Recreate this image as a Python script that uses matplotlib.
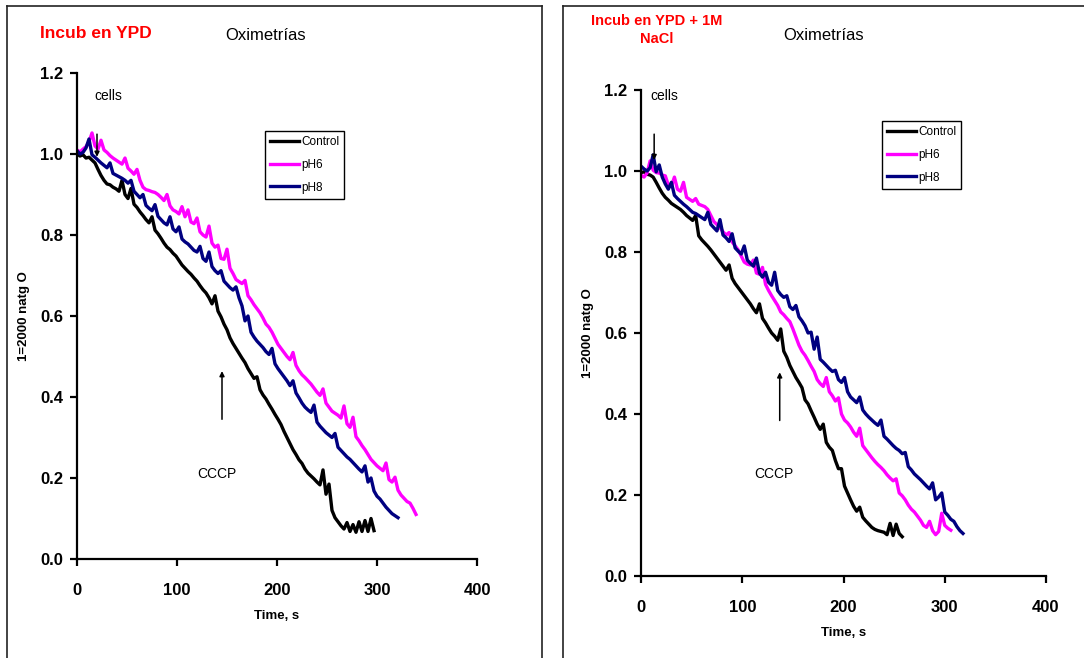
import matplotlib
matplotlib.use("Agg")
import matplotlib.pyplot as plt
from matplotlib.lines import Line2D
import numpy as np

plt.rcParams['font.family'] = ['Liberation Sans', 'DejaVu Sans']

# seconds between two readings of the oximeter trace
STEP = 3

# Incub en YPD
ypd_control = [1.000, 0.995, 0.998, 0.990, 0.992, 0.985, 0.978, 0.962, 0.947, 0.935,
               0.926, 0.924, 0.918, 0.914, 0.908, 0.935, 0.900, 0.890, 0.915, 0.876,
               0.868, 0.857, 0.848, 0.838, 0.830, 0.845, 0.812, 0.803, 0.792, 0.780,
               0.770, 0.764, 0.755, 0.748, 0.737, 0.726, 0.718, 0.710, 0.703, 0.694,
               0.686, 0.675, 0.665, 0.657, 0.645, 0.630, 0.650, 0.612, 0.598, 0.580,
               0.566, 0.546, 0.532, 0.520, 0.508, 0.496, 0.485, 0.470, 0.458, 0.446,
               0.450, 0.418, 0.405, 0.395, 0.382, 0.370, 0.357, 0.345, 0.332, 0.315,
               0.300, 0.285, 0.270, 0.258, 0.245, 0.236, 0.222, 0.212, 0.205, 0.198,
               0.190, 0.183, 0.220, 0.160, 0.185, 0.120, 0.102, 0.092, 0.082, 0.074,
               0.090, 0.068, 0.085, 0.066, 0.092, 0.068, 0.095, 0.068, 0.100, 0.070]
ypd_ph6 = [1.010, 1.005, 1.012, 1.018, 1.030, 1.052, 1.020, 1.012, 1.034, 1.010,
           1.004, 0.996, 0.990, 0.985, 0.980, 0.975, 0.990, 0.965, 0.958, 0.950,
           0.962, 0.935, 0.918, 0.912, 0.910, 0.907, 0.905, 0.900, 0.893, 0.885,
           0.900, 0.872, 0.862, 0.858, 0.852, 0.870, 0.845, 0.862, 0.832, 0.828,
           0.842, 0.808, 0.800, 0.795, 0.822, 0.780, 0.770, 0.775, 0.742, 0.740,
           0.765, 0.718, 0.705, 0.690, 0.685, 0.680, 0.688, 0.650, 0.640, 0.628,
           0.618, 0.608, 0.595, 0.580, 0.572, 0.560, 0.545, 0.530, 0.520, 0.510,
           0.500, 0.492, 0.510, 0.478, 0.465, 0.455, 0.448, 0.440, 0.432, 0.422,
           0.412, 0.404, 0.420, 0.385, 0.375, 0.365, 0.360, 0.355, 0.348, 0.378,
           0.334, 0.325, 0.350, 0.302, 0.292, 0.280, 0.270, 0.258, 0.246, 0.238,
           0.230, 0.224, 0.218, 0.237, 0.196, 0.190, 0.202, 0.170, 0.158, 0.150,
           0.142, 0.138, 0.125, 0.110]
ypd_ph8 = [1.008, 1.000, 1.004, 1.015, 1.037, 0.998, 0.992, 0.985, 0.978, 0.972,
           0.966, 0.978, 0.952, 0.948, 0.944, 0.940, 0.935, 0.928, 0.935, 0.908,
           0.900, 0.892, 0.900, 0.873, 0.866, 0.860, 0.875, 0.846, 0.838, 0.830,
           0.825, 0.845, 0.815, 0.808, 0.820, 0.790, 0.783, 0.778, 0.770, 0.762,
           0.758, 0.772, 0.742, 0.735, 0.758, 0.722, 0.712, 0.705, 0.712, 0.686,
           0.678, 0.670, 0.664, 0.672, 0.645, 0.625, 0.588, 0.600, 0.560, 0.548,
           0.538, 0.530, 0.522, 0.512, 0.505, 0.520, 0.482, 0.470, 0.460, 0.450,
           0.440, 0.428, 0.440, 0.410, 0.398, 0.385, 0.375, 0.368, 0.362, 0.380,
           0.338, 0.328, 0.320, 0.312, 0.306, 0.300, 0.310, 0.276, 0.268, 0.260,
           0.252, 0.246, 0.238, 0.230, 0.222, 0.215, 0.230, 0.190, 0.200, 0.168,
           0.155, 0.148, 0.138, 0.128, 0.120, 0.112, 0.107, 0.102]

# Incub en YPD + 1M NaCl
nacl_control = [0.996, 0.998, 0.992, 0.990, 0.985, 0.972, 0.958, 0.945, 0.935, 0.928,
                0.920, 0.915, 0.910, 0.905, 0.898, 0.890, 0.884, 0.878, 0.890, 0.840,
                0.830, 0.822, 0.814, 0.805, 0.795, 0.785, 0.775, 0.765, 0.755, 0.768,
                0.735, 0.722, 0.712, 0.702, 0.692, 0.682, 0.672, 0.660, 0.650, 0.672,
                0.636, 0.625, 0.612, 0.600, 0.592, 0.582, 0.610, 0.555, 0.540, 0.520,
                0.505, 0.490, 0.478, 0.465, 0.435, 0.425, 0.408, 0.392, 0.375, 0.362,
                0.375, 0.330, 0.318, 0.310, 0.285, 0.265, 0.265, 0.222, 0.205, 0.188,
                0.172, 0.160, 0.170, 0.145, 0.136, 0.128, 0.120, 0.115, 0.112, 0.110,
                0.108, 0.102, 0.130, 0.100, 0.128, 0.105, 0.097]
nacl_ph6 = [0.990, 0.985, 0.995, 1.025, 1.002, 0.996, 0.995, 0.990, 0.988, 0.965,
            0.962, 0.985, 0.955, 0.950, 0.972, 0.935, 0.930, 0.925, 0.932, 0.918,
            0.915, 0.912, 0.905, 0.890, 0.875, 0.868, 0.860, 0.850, 0.842, 0.848,
            0.825, 0.815, 0.805, 0.790, 0.775, 0.770, 0.768, 0.780, 0.748, 0.745,
            0.762, 0.720, 0.705, 0.692, 0.680, 0.668, 0.652, 0.645, 0.636, 0.628,
            0.610, 0.590, 0.570, 0.555, 0.545, 0.532, 0.518, 0.505, 0.485, 0.475,
            0.468, 0.490, 0.455, 0.445, 0.432, 0.440, 0.400, 0.385, 0.378, 0.368,
            0.355, 0.345, 0.365, 0.322, 0.312, 0.302, 0.292, 0.283, 0.275, 0.268,
            0.260, 0.250, 0.242, 0.235, 0.240, 0.205, 0.198, 0.188, 0.175, 0.165,
            0.158, 0.148, 0.138, 0.125, 0.120, 0.135, 0.112, 0.102, 0.110, 0.155,
            0.125, 0.118, 0.113]
nacl_ph8 = [1.012, 1.005, 1.000, 1.008, 1.040, 0.998, 1.015, 0.985, 0.968, 0.955,
            0.972, 0.940, 0.932, 0.925, 0.918, 0.912, 0.905, 0.898, 0.895, 0.890,
            0.885, 0.880, 0.898, 0.868, 0.860, 0.852, 0.880, 0.842, 0.835, 0.826,
            0.845, 0.810, 0.802, 0.795, 0.815, 0.780, 0.772, 0.765, 0.785, 0.748,
            0.738, 0.750, 0.725, 0.718, 0.750, 0.705, 0.695, 0.688, 0.692, 0.665,
            0.658, 0.668, 0.640, 0.630, 0.618, 0.600, 0.602, 0.560, 0.590, 0.535,
            0.528, 0.520, 0.512, 0.505, 0.508, 0.485, 0.478, 0.490, 0.455, 0.442,
            0.435, 0.428, 0.442, 0.410, 0.400, 0.392, 0.385, 0.378, 0.372, 0.385,
            0.345, 0.338, 0.330, 0.322, 0.315, 0.310, 0.302, 0.305, 0.270, 0.262,
            0.252, 0.245, 0.238, 0.230, 0.222, 0.215, 0.230, 0.188, 0.195, 0.205,
            0.158, 0.150, 0.140, 0.135, 0.122, 0.112, 0.105]

series_labels = ["Control", "pH6", "pH8"]
series_colors = ["black", "#FF00FF", "#000080"]
x_ticks = [0, 100, 200, 300, 400]
y_ticks = [0.0, 0.2, 0.4, 0.6, 0.8, 1.0, 1.2]


def draw_panel(fig, rect, curves, legend_xy, cells_xy, cells_arrow, cccp_xy, cccp_arrow):
    ax = fig.add_axes(rect)
    for vals, lab, col in zip(curves, series_labels, series_colors):
        t = np.arange(len(vals)) * STEP
        ax.plot(t, vals, color=col, lw=2.4, label=lab)
    ax.set_xlim(0, 400)
    ax.set_ylim(0, 1.2)
    ax.set_xticks(x_ticks)
    ax.set_yticks(y_ticks)
    ax.set_yticklabels(["%.1f" % v for v in y_ticks])
    for s in ["top", "right"]:
        ax.spines[s].set_visible(False)
    for s in ["left", "bottom"]:
        ax.spines[s].set_linewidth(1.6)
    ax.tick_params(direction="out", length=5, width=1.6, labelsize=12)
    ax.tick_params(axis="x", pad=12)
    ax.tick_params(axis="y", pad=5)
    for lab in ax.get_xticklabels() + ax.get_yticklabels():
        lab.set_fontweight("bold")
    ax.set_xlabel("Time, s", fontsize=9.5, fontweight="bold")
    ax.xaxis.set_label_coords(0.5, -0.105)
    ax.set_ylabel("1=2000 natg O", fontsize=9.5, fontweight="bold")
    ax.yaxis.set_label_coords(-0.117, 0.5)

    leg = ax.legend(loc="upper left", bbox_to_anchor=legend_xy, bbox_transform=fig.transFigure,
                    fontsize=8.5, handlelength=2.4, handletextpad=0.2, borderpad=0.45,
                    labelspacing=0.9, borderaxespad=0, fancybox=False, framealpha=1,
                    edgecolor="black")
    leg.get_frame().set_linewidth(1.0)

    arrow = dict(arrowstyle="-|>", color="black", lw=1.1, mutation_scale=7, shrinkA=0, shrinkB=0)
    ax.text(cells_xy[0], cells_xy[1], "cells", fontsize=10, ha="center", va="center")
    ax.annotate("", xy=(cells_arrow[0], cells_arrow[2]), xytext=(cells_arrow[0], cells_arrow[1]),
                arrowprops=arrow)
    ax.text(cccp_xy[0], cccp_xy[1], "CCCP", fontsize=10, ha="center", va="center")
    ax.annotate("", xy=(cccp_arrow[0], cccp_arrow[2]), xytext=(cccp_arrow[0], cccp_arrow[1]),
                arrowprops=arrow)
    return ax


fig = plt.figure(figsize=(10.84, 6.58), dpi=100)

draw_panel(fig, [77 / 1084, 99 / 658, 400 / 1084, 486 / 658],
           [ypd_control, ypd_ph6, ypd_ph8], (265 / 1084, 1 - 131 / 658),
           (31, 1.143), (20, 1.049, 0.993), (140, 0.21), (145, 0.345, 0.464))
draw_panel(fig, [641 / 1084, 82 / 658, 405 / 1084, 486 / 658],
           [nacl_control, nacl_ph6, nacl_ph8], (882 / 1084, 1 - 121 / 658),
           (23, 1.185), (13, 1.091, 1.027), (131, 0.252), (137, 0.384, 0.503))

# titles
fig.text(96 / 1084, 1 - 33 / 658, "Incub en YPD", color="red", fontsize=12.5,
         fontweight="bold", ha="center", va="center")
fig.text(266 / 1084, 1 - 35 / 658, "Oximetrías", fontsize=12, ha="center", va="center")
fig.text(657 / 1084, 1 - 30 / 658, "Incub en YPD + 1M\nNaCl", color="red", fontsize=10.5,
         fontweight="bold", ha="center", va="center", multialignment="center", linespacing=1.35)
fig.text(824 / 1084, 1 - 35 / 658, "Oximetrías", fontsize=12, ha="center", va="center")

# panel frames
top = 1 - 6 / 658
for xs, ys in [([7 / 1084, 7 / 1084], [0, top]),
               ([7 / 1084, 542 / 1084], [top, top]),
               ([542 / 1084, 542 / 1084], [0, top]),
               ([563 / 1084, 563 / 1084], [0, top]),
               ([563 / 1084, 1], [top, top])]:
    fig.add_artist(Line2D(xs, ys, transform=fig.transFigure, color="#222222", lw=1.2))

fig.savefig("out.png", dpi=100)
